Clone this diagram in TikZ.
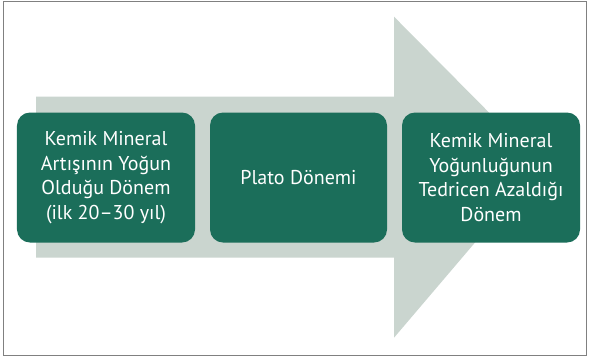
\documentclass[tikz,border=0pt]{standalone}
\usepackage{fontspec}
\setmainfont{PT Sans}
\definecolor{boxgreen}{HTML}{1B6E5A}
\definecolor{arrowgray}{HTML}{CAD5CF}
\definecolor{framegray}{HTML}{808080}
\begin{document}
\begin{tikzpicture}[x=1bp,y=-1bp,
  stagebox/.style={fill=boxgreen, draw=none, rounded corners=13bp, text=white,
    align=center, font=\fontsize{20bp}{24.5bp}\selectfont, inner sep=0pt},
]
\useasboundingbox (0,0) rectangle (589,359);
\fill[white] (0,0) rectangle (589,359);
\draw[framegray, line width=1bp] (3.5,1.5) rectangle (586.5,355.5);
% big arrow
\fill[arrowgray] (36,96.5) -- (394,96.5) -- (394,16.7) -- (541,165) -- (394,337.7) -- (394,257.7) -- (36,257.7) -- cycle;
% boxes
\node[stagebox, minimum width=178bp, minimum height=130bp] (b1) at (106,177.5) {Kemik Mineral\\Artışının Yoğun\\Olduğu Dönem\\(ilk 20–30 yıl)};
\node[stagebox, minimum width=177bp, minimum height=130bp] (b2) at (298.5,177.5) {Plato Dönemi};
\node[stagebox, minimum width=178bp, minimum height=130bp] (b3) at (491,177.5) {Kemik Mineral\\Yoğunluğunun\\Tedricen Azaldığı\\Dönem};
\end{tikzpicture}
\end{document}
